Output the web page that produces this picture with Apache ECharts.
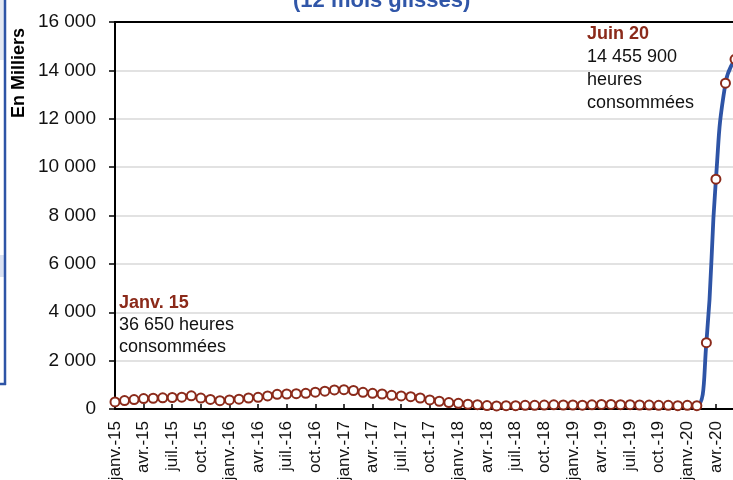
<!DOCTYPE html>
<html>
<head>
<meta charset="utf-8">
<script src="https://cdn.jsdelivr.net/npm/echarts@6/dist/echarts.min.js"></script>
<style>
html,body{margin:0;padding:0;background:#fff;}
#c{width:733px;height:480px;}
</style>
</head>
<body>
<div id="c"></div>
<script>
// ---- data ----
const monthNames = ['janv.', 'févr.', 'mars', 'avr.', 'mai', 'juin', 'juil.', 'août', 'sept.', 'oct.', 'nov.', 'déc.'];
const years = ['15', '16', '17', '18', '19', '20'];
const lastYearMonths = 6; // janv.-20 .. juin-20
const categories = [];
years.forEach((y, yi) => {
  const n = (yi === years.length - 1) ? lastYearMonths : 12;
  for (let m = 0; m < n; m++) categories.push(monthNames[m] + '-' + y);
});
// heures consommées, en milliers (12 mois glissés)
const hoursThousands = [
  290, 350, 390, 430, 445, 460, 475, 490, 545, 450, 395, 345,
  375, 405, 455, 485, 540, 605, 620, 635, 650, 695, 735, 790,
  800, 765, 690, 650, 620, 565, 540, 510, 455, 375, 320, 265,
  235, 200, 180, 140, 125, 135, 138, 150, 152, 162, 175, 165,
  165, 158, 175, 190, 190, 180, 178, 165, 163, 152, 150, 138,
  150, 138, 2740, 9500, 13470, 14456
];
const yTicks = { min: 0, max: 16000, interval: 2000 };
const titleText = '(12 mois glissés)';
const yName = 'En Milliers';
const noteStart = ['Janv. 15', '36 650 heures', 'consommées'];
const noteEnd = ['Juin 20', '14 455 900', 'heures', 'consommées'];

// ---- chart ----
const blue = '#2E54A6';
const red = '#8B2A1A';
const chart = echarts.init(document.getElementById('c'), null, { renderer: 'canvas' });
const fmt = v => String(v).replace(/\B(?=(\d{3})+(?!\d))/g, ' ');

chart.setOption({
  animation: false,
  backgroundColor: '#fff',
  grid: { left: 115, right: -2, top: 22, bottom: 71, containLabel: false, outerBoundsMode: 'none' },
  xAxis: [{
    type: 'category',
    data: categories,
    boundaryGap: false,
    axisLine: { show: true, lineStyle: { color: '#000', width: 2 } },
    axisTick: { show: true, inside: true, length: 5, interval: 2, lineStyle: { color: '#000', width: 1.5 } },
    axisLabel: {
      interval: 2, rotate: 90, margin: 12,
      color: '#111', fontSize: 17, fontFamily: 'Liberation Sans, Arial, sans-serif'
    },
    splitLine: { show: false }
  }, {
    type: 'category',
    data: categories,
    boundaryGap: false,
    position: 'top',
    axisLine: { show: true, onZero: false, lineStyle: { color: '#000', width: 2 } },
    axisTick: { show: false },
    axisLabel: { show: false },
    splitLine: { show: false }
  }],
  yAxis: {
    type: 'value',
    min: yTicks.min, max: yTicks.max, interval: yTicks.interval,
    axisLine: { show: true, lineStyle: { color: '#000', width: 2 } },
    axisTick: { show: true, inside: false, length: 6, lineStyle: { color: '#000', width: 1.5 } },
    axisLabel: {
      margin: 19, color: '#111', fontSize: 19,
      fontFamily: 'Liberation Sans, Arial, sans-serif',
      formatter: fmt
    },
    splitLine: { show: true, lineStyle: { color: '#d9d9d9', width: 1.5 } }
  },
  series: [{
    type: 'line',
    data: hoursThousands,
    smooth: 0.5,
    showAllSymbol: true,
    symbol: 'circle',
    symbolSize: 9,
    lineStyle: { color: blue, width: 3.8 },
    itemStyle: { color: '#fff', borderColor: red, borderWidth: 2 },
    z: 3
  }],
  graphic: [
    {
      type: 'text', left: 293, top: -10,
      style: {
        text: titleText, fill: '#3056A8',
        font: 'bold 22px "Liberation Sans", Arial, sans-serif'
      }
    },
    {
      type: 'text', rotation: Math.PI / 2, x: 10, y: 118,
      style: {
        text: yName, fill: '#000',
        font: 'bold 18px "Liberation Sans", Arial, sans-serif',
        align: 'left', verticalAlign: 'top'
      }
    },
    {
      type: 'text', x: 119, y: 292,
      style: {
        text: '{a|' + noteStart[0] + '}\n{b|' + noteStart[1] + '}\n{b|' + noteStart[2] + '}',
        rich: {
          a: { fontSize: 18, fontWeight: 'bold', fill: red, color: red, lineHeight: 22, fontFamily: 'Liberation Sans' },
          b: { fontSize: 18, fill: '#111', color: '#111', lineHeight: 22, fontFamily: 'Liberation Sans' }
        },
        verticalAlign: 'top'
      },
      z: 10
    },
    {
      type: 'text', x: 587, y: 23,
      style: {
        text: '{a|' + noteEnd[0] + '}\n{b|' + noteEnd[1] + '}\n{b|' + noteEnd[2] + '}\n{b|' + noteEnd[3] + '}',
        rich: {
          a: { fontSize: 18, fontWeight: 'bold', fill: red, color: red, lineHeight: 23, fontFamily: 'Liberation Sans' },
          b: { fontSize: 18, fill: '#111', color: '#111', lineHeight: 23, fontFamily: 'Liberation Sans' }
        },
        verticalAlign: 'top'
      },
      z: 10
    },
    { type: 'rect', shape: { x: 0, y: 0, width: 4, height: 60 }, style: { fill: '#e3e8f2' }, silent: true },
    { type: 'rect', shape: { x: 0, y: 255, width: 4, height: 22 }, style: { fill: '#dbe2f2' }, silent: true },
    { type: 'line', shape: { x1: 5, y1: 0, x2: 5, y2: 385 }, style: { stroke: blue, lineWidth: 2.5 }, silent: true },
    { type: 'line', shape: { x1: 0, y1: 384, x2: 6, y2: 384 }, style: { stroke: blue, lineWidth: 2.5 }, silent: true }
  ]
});
</script>
</body>
</html>
